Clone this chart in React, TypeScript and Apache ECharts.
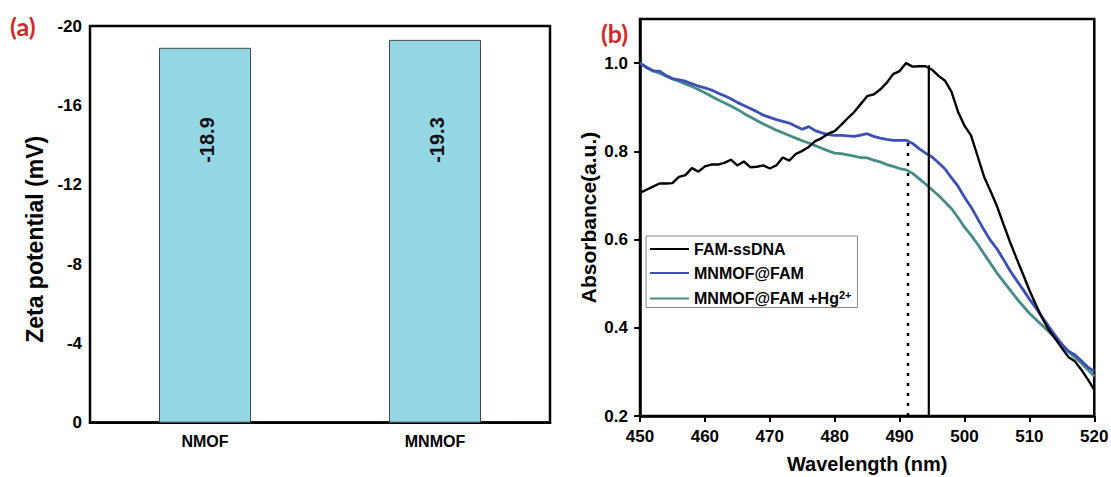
import React, { useEffect, useRef } from "react";
import * as echarts from "echarts";

// ---------- Panel (a) data ----------
const categories = ["NMOF", "MNMOF"];
const zetaValues = [-18.9, -19.3];
const zetaTicks = [-20, -16, -12, -8, -4, 0];

// ---------- Panel (b) data ----------
const wavelengths = [
  450, 451, 452, 453, 454, 455, 456, 457, 458, 459, 460, 461, 462, 463, 464, 465, 466, 467, 468, 469,
  470, 471, 472, 473, 474, 475, 476, 477, 478, 479, 480, 481, 482, 483, 484, 485, 486, 487, 488, 489,
  490, 491, 492, 493, 494, 495, 496, 497, 498, 499, 500, 501, 502, 503, 504, 505, 506, 507, 508, 509,
  510, 511, 512, 513, 514, 515, 516, 517, 518, 519, 520,
];
const famSsDNA = [
  0.706, 0.713, 0.72, 0.727, 0.727, 0.728, 0.742, 0.746, 0.762, 0.754, 0.766, 0.77, 0.77, 0.774, 0.781, 0.768, 0.777, 0.764, 0.765, 0.768,
  0.761, 0.768, 0.786, 0.779, 0.794, 0.801, 0.81, 0.823, 0.83, 0.84, 0.846, 0.86, 0.875, 0.889, 0.907, 0.925, 0.929, 0.94, 0.955, 0.975,
  0.982, 1.0, 0.992, 0.993, 0.993, 0.985, 0.971, 0.96, 0.935, 0.89, 0.858, 0.836, 0.79, 0.743, 0.71, 0.676, 0.635, 0.595, 0.558, 0.522,
  0.485, 0.452, 0.421, 0.395, 0.375, 0.354, 0.334, 0.324, 0.305, 0.283, 0.259,
];
const mnmofFam = [
  1.0, 0.99, 0.982, 0.982, 0.972, 0.965, 0.962, 0.959, 0.953, 0.948, 0.944, 0.939, 0.932, 0.926, 0.919, 0.911, 0.904, 0.897, 0.89, 0.882,
  0.877, 0.872, 0.868, 0.864, 0.857, 0.85, 0.856, 0.847, 0.842, 0.838, 0.836, 0.836, 0.835, 0.834, 0.837, 0.84, 0.834, 0.83, 0.827, 0.825,
  0.825, 0.825, 0.818, 0.806, 0.796, 0.787, 0.774, 0.76, 0.74, 0.721, 0.696, 0.674, 0.648, 0.622, 0.598, 0.579, 0.555, 0.53, 0.508, 0.487,
  0.465, 0.445, 0.424, 0.403, 0.382, 0.363, 0.347, 0.339, 0.325, 0.311, 0.301,
];
const mnmofFamHg = [
  1.0, 0.991, 0.983, 0.977, 0.971, 0.964, 0.959, 0.953, 0.947, 0.94, 0.933, 0.925, 0.917, 0.91, 0.903, 0.895, 0.886, 0.878, 0.87, 0.862,
  0.855, 0.848, 0.842, 0.836, 0.83, 0.824, 0.819, 0.813, 0.807, 0.801, 0.796, 0.795, 0.792, 0.789, 0.786, 0.785, 0.78, 0.776, 0.77, 0.766,
  0.761, 0.758, 0.75, 0.738, 0.726, 0.713, 0.7, 0.685, 0.67, 0.65, 0.628, 0.61, 0.59, 0.568, 0.546, 0.524, 0.505, 0.486, 0.467, 0.45,
  0.433, 0.419, 0.405, 0.391, 0.376, 0.361, 0.346, 0.333, 0.32, 0.305, 0.29,
];
const seriesNames = ["FAM-ssDNA", "MNMOF@FAM", "MNMOF@FAM +Hg2+"];
const absTicks = [0.2, 0.4, 0.6, 0.8, 1.0];
const solidMarker = [494.5, 0.995];
const dottedMarker = [491.3, 0.83];

const FONT = "'Liberation Sans', Arial, sans-serif";

export default function App() {
  const ref = useRef<HTMLDivElement>(null);

  useEffect(() => {
    if (!ref.current) return;
    const chart = echarts.init(ref.current, undefined, { renderer: "svg" });

    const gridA = { left: 90, top: 26, right: 561, bottom: 54.3 };
    const gridB = { left: 640, top: 19, right: 16.7, bottom: 61 };
    const plotHA = 477 - gridA.top - gridA.bottom;
    const labelStartValue = 15.4; // magnitude where the bar labels begin

    const axisLineStyle = { color: "#000", width: 2.5 };
    const tickLabel = { fontFamily: FONT, fontWeight: "bold" as const, fontSize: 17, color: "#000" };
    const nameStyle = { fontFamily: FONT, fontWeight: "bold" as const, fontSize: 21, color: "#000" };

    const toXY = (vals: number[]) => wavelengths.map((w, i) => [w, vals[i]]);
    const colors = ["#000000", "#3C50B4", "#478C87"];
    const curves = [famSsDNA, mnmofFam, mnmofFamHg];

    chart.setOption({
      animation: false,
      backgroundColor: "#fff",
      grid: [
        { ...gridA, outerBoundsMode: "none", containLabel: false, show: true, borderColor: "#000", borderWidth: 2.5, backgroundColor: "transparent" },
        { ...gridB, outerBoundsMode: "none", containLabel: false, show: true, borderColor: "#000", borderWidth: 2.5, backgroundColor: "transparent" },
      ],
      xAxis: [
        {
          gridIndex: 0,
          type: "category",
          data: categories,
          axisLine: { lineStyle: axisLineStyle },
          axisTick: { alignWithLabel: true, length: 6, lineStyle: { width: 2, color: "#000" } },
          axisLabel: { ...tickLabel, fontSize: 16, margin: 11 },
        },
        {
          gridIndex: 1,
          type: "value",
          min: 450,
          max: 520,
          interval: 10,
          splitLine: { show: false },
          axisLine: { lineStyle: axisLineStyle },
          axisTick: { length: 6, lineStyle: { width: 2, color: "#000" } },
          axisLabel: { ...tickLabel, margin: 12 },
          name: "Wavelength (nm)",
          nameLocation: "middle",
          nameGap: 38,
          nameTextStyle: { ...nameStyle, fontSize: 20 },
        },
      ],
      yAxis: [
        {
          gridIndex: 0,
          type: "value",
          inverse: true,
          min: -20,
          max: 0,
          interval: 4,
          splitLine: { show: false },
          axisLine: { lineStyle: axisLineStyle },
          axisTick: { length: 6, lineStyle: { width: 2, color: "#000" }, customValues: zetaTicks },
          axisLabel: { ...tickLabel, margin: 8, customValues: zetaTicks },
          name: "Zeta potential (mV)",
          nameLocation: "middle",
          nameGap: 44,
          nameTextStyle: { ...nameStyle, fontSize: 23, padding: [0, 30, 0, 0] },
        },
        {
          gridIndex: 1,
          type: "value",
          min: 0.2,
          max: 1.1,
          interval: 0.2,
          splitLine: { show: false },
          axisLine: { lineStyle: axisLineStyle },
          axisTick: { length: 6, lineStyle: { width: 2, color: "#000" }, customValues: absTicks },
          axisLabel: {
            ...tickLabel,
            margin: 12,
            customValues: absTicks,
            formatter: (v: number) => v.toFixed(1),
          },
          name: "Absorbance(a.u.)",
          nameLocation: "middle",
          nameGap: 41,
          nameTextStyle: nameStyle,
        },
      ],
      legend: {
        data: seriesNames,
        orient: "vertical",
        left: 646,
        top: 236,
        borderColor: "#888",
        borderWidth: 1,
        padding: [5, 6, 1, 3],
        itemGap: 8,
        itemWidth: 39,
        itemHeight: 14,
        itemStyle: { opacity: 0, borderWidth: 0 },
        textStyle: {
          fontFamily: FONT,
          fontWeight: "bold",
          fontSize: 16,
          color: "#000",
          rich: { sup: { fontSize: 11, fontWeight: "bold", verticalAlign: "top", padding: [0, 0, 8, 0] } },
        },
        formatter: (n: string) => (n === seriesNames[2] ? "MNMOF@FAM +Hg{sup|2+}" : n),
      },
      graphic: [
        {
          type: "text",
          left: 10,
          top: 13,
          style: { text: "(a)", fontFamily: "Lato, 'Open Sans', sans-serif", fontWeight: "bold", fontSize: 25, fill: "#D0282A" },
        },
        {
          type: "text",
          left: 601,
          top: 20,
          style: { text: "(b)", fontFamily: "Lato, 'Open Sans', sans-serif", fontWeight: "bold", fontSize: 25, fill: "#D0282A" },
        },
      ],
      series: [
        {
          type: "bar",
          xAxisIndex: 0,
          yAxisIndex: 0,
          barWidth: "40%",
          itemStyle: { color: "#95D6E4", borderColor: "#4A4A4A", borderWidth: 1 },
          data: zetaValues.map((v) => ({
            value: v,
            label: {
              show: true,
              position: ["52%", ((Math.abs(v) - labelStartValue) / 20) * plotHA],
              rotate: 90,
              align: "right",
              verticalAlign: "middle",
              fontFamily: FONT,
              fontWeight: "bold",
              fontSize: 20,
              color: "#111",
              formatter: (p: any) => String(p.value),
            },
          })),
        },
        ...curves.map((vals, i) => ({
          name: seriesNames[i],
          type: "line",
          xAxisIndex: 1,
          yAxisIndex: 1,
          data: toXY(vals),
          showSymbol: false,
          symbol: "none",
          color: colors[i],
          lineStyle: { color: colors[i], width: i === 0 ? 2.4 : 2.8 },
          z: 3 - i,
        })),
        {
          type: "line",
          xAxisIndex: 1,
          yAxisIndex: 1,
          data: [
            [solidMarker[0], 0.2],
            [solidMarker[0], solidMarker[1]],
          ],
          showSymbol: false,
          symbol: "none",
          silent: true,
          lineStyle: { color: "#000", width: 2.2 },
        },
        {
          type: "line",
          xAxisIndex: 1,
          yAxisIndex: 1,
          data: [
            [dottedMarker[0], 0.2],
            [dottedMarker[0], dottedMarker[1]],
          ],
          showSymbol: false,
          symbol: "none",
          silent: true,
          lineStyle: { color: "#000", width: 2.5, type: [3, 7] },
        },
      ],
    });

    return () => chart.dispose();
  }, []);

  return <div ref={ref} style={{ position: "fixed", left: 0, top: 0, width: 1111, height: 477 }} />;
}
